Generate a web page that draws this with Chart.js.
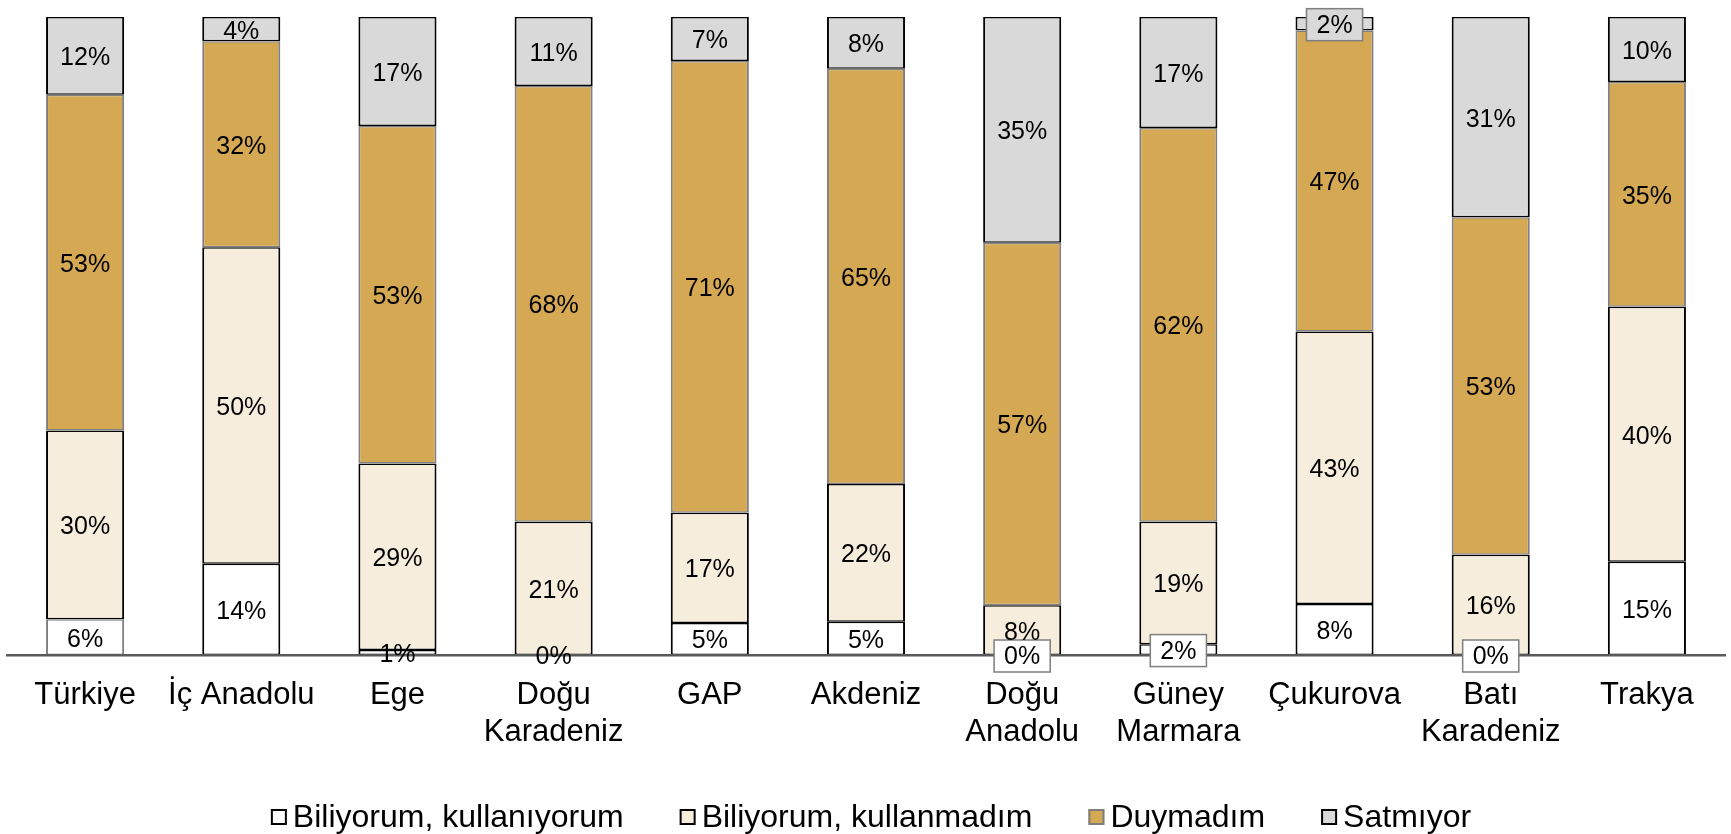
<!DOCTYPE html>
<html><head><meta charset="utf-8">
<script src="https://cdn.jsdelivr.net/npm/chart.js@4.4.1/dist/chart.umd.min.js"></script>
<style>html,body{margin:0;padding:0;background:#fff;} canvas{display:block;}</style>
</head><body>
<canvas id="c" width="1731" height="834"></canvas>
<script>
const categories = ['Türkiye', 'İç Anadolu', 'Ege', ['Doğu', 'Karadeniz'], 'GAP', 'Akdeniz',
  ['Doğu', 'Anadolu'], ['Güney', 'Marmara'], 'Çukurova', ['Batı', 'Karadeniz'], 'Trakya'];
const seriesNames = ['Biliyorum, kullanıyorum', 'Biliyorum, kullanmadım', 'Duymadım', 'Satmıyor'];
const bilKullaniyorum = [5.6, 14.3, 0.8, 0, 5.0, 5.2, 0, 1.7, 8.0, 0, 14.6];
const bilKullanmadim  = [29.6, 49.6, 29.2, 20.9, 17.3, 21.6, 7.8, 19.2, 42.7, 15.7, 40.0];
const duymadim        = [52.6, 32.3, 52.9, 68.3, 70.8, 65.1, 56.8, 61.7, 47.2, 52.9, 35.2];
const satmiyor        = [12.2, 3.8, 17.1, 10.8, 6.9, 8.1, 35.4, 17.4, 2.1, 31.4, 10.2];

const FONT = '"Liberation Sans", Arial, sans-serif';
// labels drawn with a small framed background: [datasetIndex, categoryIndex]
const boxedLabels = [[0, 6], [0, 7], [0, 9], [3, 8]];

const segLabels = {
  id: 'segLabels',
  afterDraw(chart) {
    const ctx = chart.ctx;
    ctx.save();
    ctx.font = '25px ' + FONT;
    ctx.textAlign = 'center';
    ctx.textBaseline = 'middle';
    chart.data.datasets.forEach((ds, di) => {
      const meta = chart.getDatasetMeta(di);
      meta.data.forEach((bar, i) => {
        const text = Math.round(ds.data[i]) + '%';
        const cx = bar.x;
        const cy = (bar.y + bar.base) / 2 + 1;
        if (boxedLabels.some(b => b[0] === di && b[1] === i)) {
          const w = ctx.measureText(text).width + 20;
          const h = 32;
          ctx.fillStyle = ds.backgroundColor;
          ctx.fillRect(cx - w / 2, cy - h / 2, w, h);
          ctx.strokeStyle = '#7F7F7F';
          ctx.lineWidth = 1.5;
          ctx.strokeRect(cx - w / 2, cy - h / 2, w, h);
        }
        ctx.fillStyle = '#000';
        ctx.fillText(text, cx, cy + 1.5);
      });
    });
    ctx.restore();
  }
};

// Legend drawn from the datasets' own labels and styles (compact box-to-text gap)
const compactLegend = {
  id: 'compactLegend',
  afterDraw(chart) {
    const ctx = chart.ctx;
    const box = 16, gap = 6, spacing = 56, cy = 817;
    ctx.save();
    ctx.font = '32px ' + FONT;
    ctx.textBaseline = 'middle';
    ctx.textAlign = 'left';
    const items = chart.data.datasets.map(ds => ({
      text: ds.label,
      fill: ds.backgroundColor,
      stroke: ds.legendBorder || '#000',
      w: ctx.measureText(ds.label).width
    }));
    const total = items.reduce((s, it) => s + box + gap + it.w, 0) + spacing * (items.length - 1);
    let x = 871 - total / 2;
    items.forEach(it => {
      ctx.fillStyle = it.fill;
      ctx.fillRect(x, cy - box / 2, box, box);
      ctx.strokeStyle = it.stroke;
      ctx.lineWidth = 2;
      ctx.strokeRect(x + 1, cy - box / 2 + 1, box - 2, box - 2);
      ctx.fillStyle = '#000';
      ctx.fillText(it.text, x + box + gap, cy + 1);
      x += box + gap + it.w + spacing;
    });
    ctx.restore();
  }
};

const bw = {top: 1.5, bottom: 1.5, left: 2, right: 2};
const common = {borderWidth: bw, borderSkipped: false, barPercentage: 0.5, categoryPercentage: 1, clip: false};

new Chart(document.getElementById('c'), {
  type: 'bar',
  data: {
    labels: categories,
    datasets: [
      Object.assign({label: seriesNames[0], data: bilKullaniyorum, backgroundColor: '#FFFFFF',
        borderColor: c => (c.dataIndex === 0 ? '#7F7F7F' : '#000000'), legendBorder: '#000000'}, common),
      Object.assign({label: seriesNames[1], data: bilKullanmadim, backgroundColor: '#F6EDDD', borderColor: '#000000', legendBorder: '#000000'}, common),
      Object.assign({label: seriesNames[2], data: duymadim, backgroundColor: '#D5A853', borderColor: '#7F7F7F', legendBorder: '#7F7F7F'}, common),
      Object.assign({label: seriesNames[3], data: satmiyor, backgroundColor: '#D9D9D9', borderColor: '#000000', legendBorder: '#000000'}, common)
    ]
  },
  options: {
    responsive: false,
    animation: false,
    layout: {padding: {left: 7, right: 6, top: 17, bottom: 79}},
    plugins: {
      tooltip: {enabled: false},
      legend: {display: false}
    },
    scales: {
      x: {
        stacked: true,
        grid: {display: false, drawTicks: false},
        border: {display: true, color: '#595959', width: 2.5, z: 1},
        ticks: {font: {size: 31, family: FONT}, color: '#000', padding: 22, maxRotation: 0, autoSkip: false},
        afterFit: s => { s.height = 100; }
      },
      y: {stacked: true, min: 0, max: 100, display: false}
    }
  },
  plugins: [segLabels, compactLegend]
});
</script></body></html>
